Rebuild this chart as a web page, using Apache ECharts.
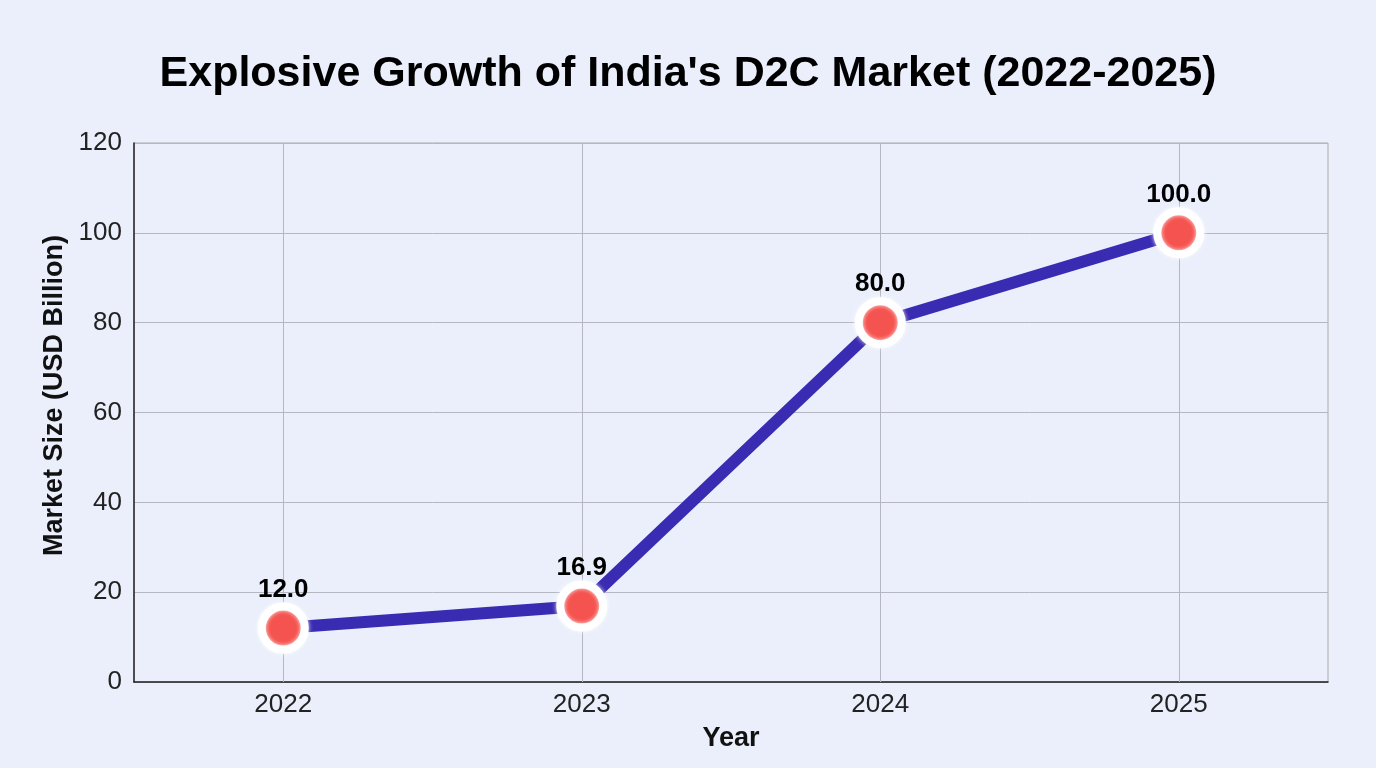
<!DOCTYPE html>
<html>
<head>
<meta charset="utf-8">
<style>
  html, body { margin: 0; padding: 0; background: #eaeffb; }
  #chart { width: 1376px; height: 768px; }
</style>
<script src="https://cdn.jsdelivr.net/npm/echarts@6/dist/echarts.min.js"></script>
</head>
<body>
<div id="chart"></div>
<script>
const years = ['2022', '2023', '2024', '2025']
const marketSize = [12.0, 16.9, 80.0, 100.0]

const chart = echarts.init(document.getElementById('chart'))

const fontFamily = '"Liberation Sans", Arial, Helvetica, sans-serif'

chart.setOption({
  backgroundColor: '#eaeffb',
  title: {
    text: "Explosive Growth of India's D2C Market (2022-2025)",
    left: 'center',
    top: 48,
    textStyle: { fontFamily, fontSize: 43, fontWeight: 'bold', color: '#000' }
  },
  grid: {
    left: 134, right: 48, top: 143, bottom: 86,
    show: true,
    borderColor: '#aaaaaa',
    borderWidth: 1,
    backgroundColor: 'transparent'
  },
  xAxis: {
    type: 'category',
    data: years,
    boundaryGap: true,
    name: 'Year',
    nameLocation: 'middle',
    nameGap: 43,
    nameTextStyle: { fontFamily, fontSize: 27, fontWeight: 'bold', color: '#111' },
    axisLine: { lineStyle: { color: '#222', width: 1.5 } },
    axisTick: { show: false },
    axisLabel: { fontFamily, fontSize: 26, color: '#222', margin: 10 },
    splitLine: { show: false }
  },
  yAxis: {
    type: 'value',
    min: 0, max: 120, interval: 20,
    name: 'Market Size (USD Billion)',
    nameLocation: 'middle',
    nameGap: 61,
    nameTextStyle: { fontFamily, fontSize: 27, fontWeight: 'bold', color: '#111', padding: [0, 0, 0, 34] },
    axisLine: { show: true, lineStyle: { color: '#222', width: 1.5 } },
    axisTick: { show: false },
    axisLabel: { fontFamily, fontSize: 26, color: '#222', margin: 12 },
    splitLine: { lineStyle: { color: '#b4b7c2', width: 1 } }
  },
  series: [{
    type: 'line',
    data: marketSize,
    lineStyle: { color: '#3a2bb3', width: 12 },
    symbol: 'circle',
    symbolSize: 43,
    itemStyle: {
      color: '#f5534f',
      borderColor: '#ffffff',
      borderWidth: 8,
      shadowColor: 'rgba(255,255,255,0.9)',
      shadowBlur: 4
    },
    label: {
      show: true,
      position: 'top',
      distance: 0,
      formatter: p => p.value.toFixed(1),
      fontFamily, fontSize: 26, fontWeight: 'bold', color: '#000'
    },
    markLine: {
      silent: true,
      symbol: 'none',
      label: { show: false },
      lineStyle: { color: '#b4b7c2', width: 1, type: 'solid' },
      z: 1,
      data: years.map(y => ({ xAxis: y }))
    },
    z: 3
  }]
})
</script>
</body>
</html>
